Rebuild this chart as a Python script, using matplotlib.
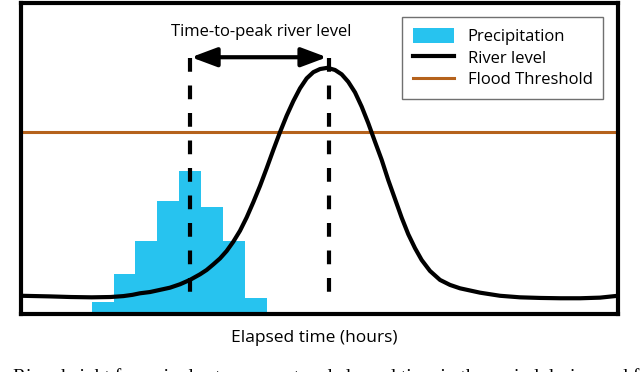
import matplotlib
matplotlib.use("Agg")
import matplotlib.pyplot as plt
from matplotlib.patches import FancyArrowPatch, Patch
from matplotlib.lines import Line2D

plt.rcParams['font.family'] = ['Open Sans', 'DejaVu Sans']

# precipitation bars (hours, rain amount)
bar_x = [8.2, 10.4, 12.6, 14.8, 17.0, 19.2, 21.4, 23.6]
bar_h = [0.38, 1.27, 2.34, 3.61, 4.57, 3.44, 2.34, 0.51]

# river level
river_t = [0.0, 2.9, 5.0, 7.1, 9.0, 10.3, 11.2, 11.96, 12.96, 13.97, 14.97,
           15.98, 16.98, 17.99, 18.66, 19.33, 20.00, 20.67, 21.34, 22.01,
           22.68, 23.35, 24.02, 24.69, 25.36, 26.03, 26.70, 27.37, 28.04,
           28.71, 29.38, 30.05, 30.8, 31.56, 32.23, 32.89, 33.57, 34.24,
           34.90, 35.58, 36.25, 36.91, 37.59, 38.26, 38.92, 39.60, 40.27,
           41.10, 42.11, 43.11, 44.12, 46.13, 48.14, 50.15, 52.2, 54.2, 56.2,
           58.2, 60.0]
river_y = [0.57, 0.55, 0.53, 0.52, 0.53, 0.56, 0.60, 0.65, 0.69, 0.76, 0.83,
           0.94, 1.08, 1.26, 1.40, 1.58, 1.77, 2.01, 2.31, 2.66,
           3.09, 3.58, 4.10, 4.67, 5.26, 5.83, 6.36, 6.83, 7.24,
           7.56, 7.76, 7.86, 7.90, 7.83, 7.69, 7.45, 7.11, 6.65,
           6.12, 5.52, 4.94, 4.29, 3.68, 3.08, 2.55, 2.10, 1.72,
           1.37, 1.08, 0.92, 0.81, 0.67, 0.57, 0.52, 0.50, 0.49, 0.49,
           0.51, 0.57]

flood_level = 5.84
rain_peak_t = 17.0
river_peak_t = 31.0

bar_color = '#27C3EF'
flood_color = '#B5621C'

fig = plt.figure(figsize=(6.4, 3.72), dpi=100)
ax = fig.add_axes([21/640, 1-313.5/372, 597/640, 311/372])
ax.set_xlim(0, 60)
ax.set_ylim(0, 10)
ax.set_xticks([])
ax.set_yticks([])
for s in ax.spines.values():
    s.set_linewidth(3)
    s.set_color('black')

ax.bar(bar_x, bar_h, width=2.2, color=bar_color, linewidth=0, zorder=1)
ax.axhline(flood_level, color=flood_color, lw=2.2, zorder=2)
ax.plot(river_t, river_y, color='black', lw=3, zorder=3,
        solid_joinstyle='round', solid_capstyle='butt')

# dashed markers, drawn top-down so the dash starts at the top
for t in (rain_peak_t, river_peak_t):
    ax.plot([t, t], [8.2, 0.3], color='black', lw=3,
            linestyle=(0, (3.3, 3.3)), zorder=4)

arrow = FancyArrowPatch((17.1, 8.24), (30.75, 8.24),
                        arrowstyle='<|-|>,head_length=1.55,head_width=0.58',
                        mutation_scale=10, lw=3, color='black',
                        shrinkA=0, shrinkB=0, zorder=5)
ax.add_patch(arrow)
ax.text(24.1, 9.05, 'Time-to-peak river level', ha='center', va='center',
        fontsize=12)

handles = [Patch(facecolor=bar_color, edgecolor='none', label='Precipitation'),
           Line2D([], [], color='black', lw=3, label='River level'),
           Line2D([], [], color=flood_color, lw=2.2, label='Flood Threshold')]
leg = ax.legend(handles=handles, loc='upper left', bbox_to_anchor=(0.638, 0.952),
                borderaxespad=0, fontsize=12, frameon=True, fancybox=False,
                edgecolor='#707070', framealpha=1, handlelength=2.45,
                handleheight=1.0, handletextpad=0.84, borderpad=0.65,
                labelspacing=0.26)
leg.get_frame().set_linewidth(1)

fig.text(314/640, 1-338/372, 'Elapsed time (hours)', ha='center', va='center',
         fontsize=12.5)

# caption cut off at the bottom edge, as in the source
fig.text(13/640, -0.028, 'River height for a single storm event and elapsed time '
         'in the period during and following the storm.',
         ha='left', va='baseline', fontsize=14, family='Liberation Serif')

fig.savefig('out.png', dpi=100)
